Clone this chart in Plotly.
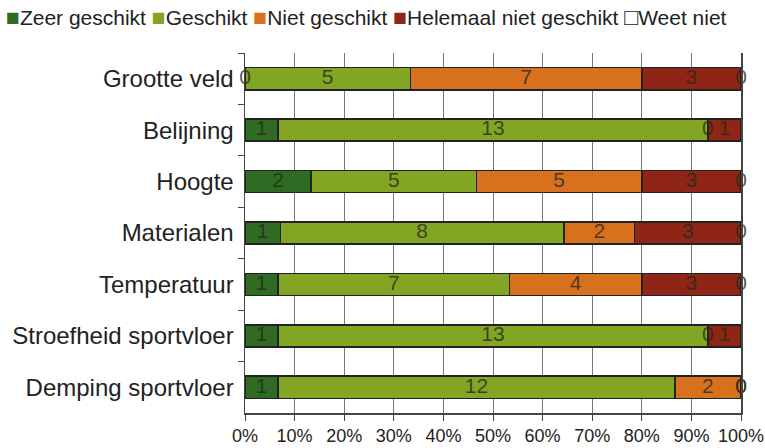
import plotly.graph_objects as go

categories = ["Grootte veld", "Belijning", "Hoogte", "Materialen",
              "Temperatuur", "Stroefheid sportvloer", "Demping sportvloer"]
series_names = ["Zeer geschikt", "Geschikt", "Niet geschikt",
                "Helemaal niet geschikt", "Weet niet"]
zeer_geschikt = [0, 1, 2, 1, 1, 1, 1]
geschikt = [5, 13, 5, 8, 7, 13, 12]
niet_geschikt = [7, 0, 5, 2, 4, 0, 2]
helemaal_niet = [3, 1, 3, 3, 3, 1, 0]
weet_niet = [0, 0, 0, 0, 0, 0, 0]
colors = ["#2f6b22", "#82a523", "#d8711e", "#8e2516", "#fffff2"]
x_ticks = [0, 10, 20, 30, 40, 50, 60, 70, 80, 90, 100]

series = [zeer_geschikt, geschikt, niet_geschikt, helemaal_niet, weet_niet]
totals = [sum(s[i] for s in series) for i in range(len(categories))]

FONT = "Liberation Sans, Arial, sans-serif"

fig = go.Figure()
for name, vals, col in zip(series_names, series, colors):
    pct = [v / t * 100 for v, t in zip(vals, totals)]
    fig.add_trace(go.Bar(
        y=categories, x=pct, name=name, orientation="h",
        marker=dict(color=col, line=dict(color="#222222", width=1.5)),
        hoverinfo="skip", showlegend=False,
    ))

# value labels at segment centres (computed from the data)
lab_x, lab_y, lab_t = [], [], []
for i, cat in enumerate(categories):
    cum = 0.0
    for vals in series:
        p = vals[i] / totals[i] * 100
        lab_x.append(cum + p / 2)
        lab_y.append(cat)
        lab_t.append(str(vals[i]))
        cum += p
fig.add_trace(go.Scatter(
    x=lab_x, y=lab_y, text=lab_t, mode="text", showlegend=False,
    textfont=dict(family=FONT, size=21, color="rgba(40,40,28,0.78)"),
    hoverinfo="skip", cliponaxis=False,
))

# legend drawn as one line of text
legend_parts = []
for name, col in zip(series_names, colors):
    if name == "Weet niet":
        sym = '<span style="color:#222222;font-size:23px">□</span>'
    else:
        sym = '<span style="color:%s;font-size:23px">■</span>' % col
    legend_parts.append(sym + name)
fig.add_annotation(
    text=" ".join(legend_parts), xref="paper", yref="paper",
    x=-241 / 496, y=1 + (53 - 17) / 361, xanchor="left", yanchor="middle",
    showarrow=False, font=dict(family=FONT, size=21, color="#222222"),
)

fig.update_layout(
    barmode="stack",
    bargap=0.57,
    width=765, height=448,
    margin=dict(l=245, r=24, t=53, b=35, autoexpand=False),
    paper_bgcolor="white", plot_bgcolor="white",
    font=dict(family=FONT, size=19, color="#222222"),
    showlegend=False,
)
fig.update_xaxes(
    range=[0, 100], tickvals=x_ticks, ticktext=[f"{v}%" for v in x_ticks],
    showgrid=True, gridcolor="#777777", gridwidth=1,
    showline=True, linecolor="#444444", linewidth=1.5,
    ticks="outside", ticklen=6, tickcolor="#444444",
    zeroline=False, fixedrange=True, automargin=False,
    tickfont=dict(size=18), ticklabeloverflow="allow",
)
fig.update_yaxes(
    categoryorder="array", categoryarray=categories, autorange="reversed",
    showline=True, linecolor="#444444", linewidth=1.5, mirror=True,
    ticks="outside", ticklen=6, tickcolor="#444444", tickson="boundaries",
    showgrid=False, fixedrange=True, automargin=False,
    tickfont=dict(size=24), ticklabelstandoff=5,
)

fig.write_html("out.html", config={"displayModeBar": False, "staticPlot": True},
               post_script="document.body.style.margin='0';document.body.style.overflow='hidden';")
